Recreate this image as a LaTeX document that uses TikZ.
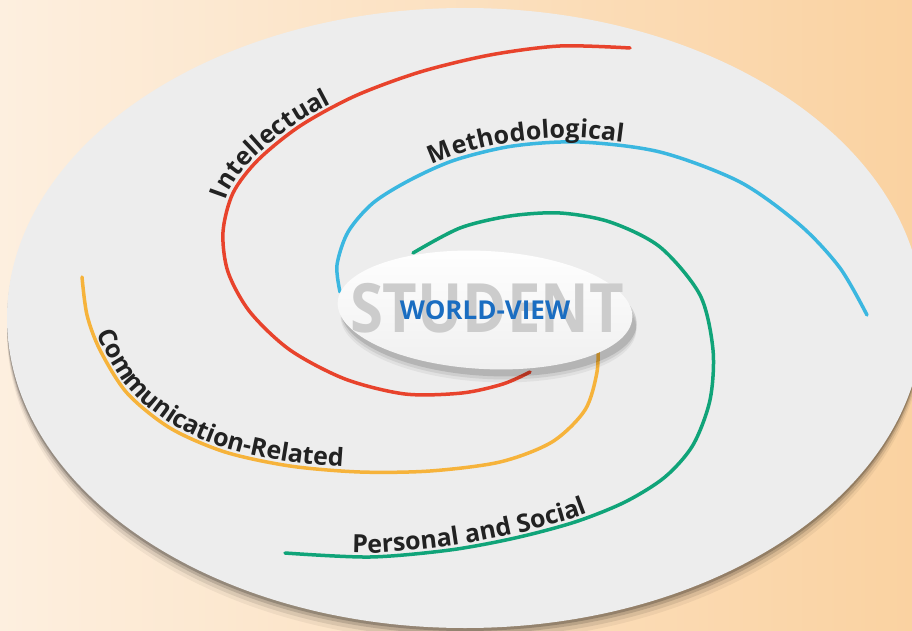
\documentclass[tikz,border=0pt]{standalone}
\usepackage{fontspec}
\setsansfont{Open Sans}
\usetikzlibrary{decorations.text,shapes.geometric}

\definecolor{peachL}{HTML}{FDEFDF}
\definecolor{peachR}{HTML}{FAD2A1}
\definecolor{disc}{HTML}{EDEDED}
\definecolor{armred}{HTML}{E8432C}
\definecolor{armblue}{HTML}{3BB7E0}
\definecolor{armgreen}{HTML}{10A479}
\definecolor{armorange}{HTML}{F6B33B}
\definecolor{wvblue}{HTML}{1A6DC1}
\definecolor{ink}{HTML}{222222}

\newcommand{\armfont}{\sffamily\bfseries\fontsize{25}{29}\selectfont}

\tikzset{
    arm/.style={line width=3.5pt, line cap=round},
    armlabel/.style={decorate, decoration={text along path, text align=center, raise=4pt, text color=ink}},
    hub/.style={ellipse, inner sep=0pt, minimum width=295pt, minimum height=118pt, rotate=-3,
        top color=white, bottom color=gray!12}
}

\begin{document}
\begin{tikzpicture}[x=1pt, y=-1pt]
    % Background
    \shade[left color=peachL, right color=peachR] (0,0) rectangle (912,631);
    \useasboundingbox (0,0) rectangle (912,631);

    % Disc with its rim shadow
    \foreach \d/\o in {14/0.05, 10/0.09, 6/0.14, 3/0.2}
        \fill[black, opacity=\o] (465,318+\d) ellipse (458 and 310);
    \fill[disc] (465,318) ellipse (458 and 310);

    % Intellectual (red arm)
    \draw[arm, armred] plot[smooth] coordinates {(630,48) (560,46) (490,55) (420,72) (355,96) (300,126) (258,160) (233,193) (223,232) (228,272) (250,312) (290,350) (345,379) (405,394) (462,393) (503,384) (530,372)};
    \path[armlabel, decoration={text={|\armfont|Intellectual}}] plot[smooth] coordinates {(224,250) (223,232) (233,193) (258,160) (300,126) (355,96) (378,87)};

    % Methodological (blue arm)
    \draw[arm, armblue] plot[smooth] coordinates {(340,292) (337,265) (348,232) (373,203) (410,180) (455,160) (513,146) (580,142) (660,152) (740,182) (800,225) (840,268) (867,315)};
    \path[armlabel, decoration={text={|\armfont|Methodological}}] plot[smooth] coordinates {(373,203) (410,180) (455,160) (513,146) (580,142) (660,152) (690,162)};

    % Personal and Social (green arm)
    \draw[arm, armgreen] plot[smooth] coordinates {(413,253) (460,228) (510,216) (560,213) (610,222) (660,247) (700,295) (713,350) (710,400) (693,445) (665,477) (625,502) (575,522) (515,538) (450,550) (370,557) (285,553)};
    \path[armlabel, decoration={text={|\armfont|Personal and Social}}] plot[smooth] coordinates {(285,553) (370,557) (450,550) (515,538) (575,522) (625,502) (650,488)};

    % Communication-Related (orange arm)
    \draw[arm, armorange] plot[smooth] coordinates {(82,277) (87,315) (100,350) (127,393) (170,428) (225,452) (290,466) (360,472) (430,471) (500,462) (552,442) (585,410) (597,372) (598,340)};
    \path[armlabel, decoration={text={|\armfont|Communication-Related}}] plot[smooth] coordinates {(82,277) (87,315) (100,350) (127,393) (170,428) (225,452) (290,466) (360,472) (402,472)};

    % Hub shadow
    \foreach \d/\o in {10/0.05, 7/0.08, 4/0.12}
        \fill[black, opacity=\o, rotate around={-3:(489,313)}] (489,313+\d) ellipse (148 and 59);

    % Hub
    \node[hub] (hub) at (485,310) {};
    \node[text=gray!40, font=\sffamily\bfseries\fontsize{68}{68}\selectfont] (student) at (487,308) {\scalebox{0.88}[1]{STUDENT}};
    \node[text=wvblue, font=\sffamily\bfseries\fontsize{26}{26}\selectfont] (worldview) at (hub.center) {WORLD-VIEW};
\end{tikzpicture}
\end{document}
